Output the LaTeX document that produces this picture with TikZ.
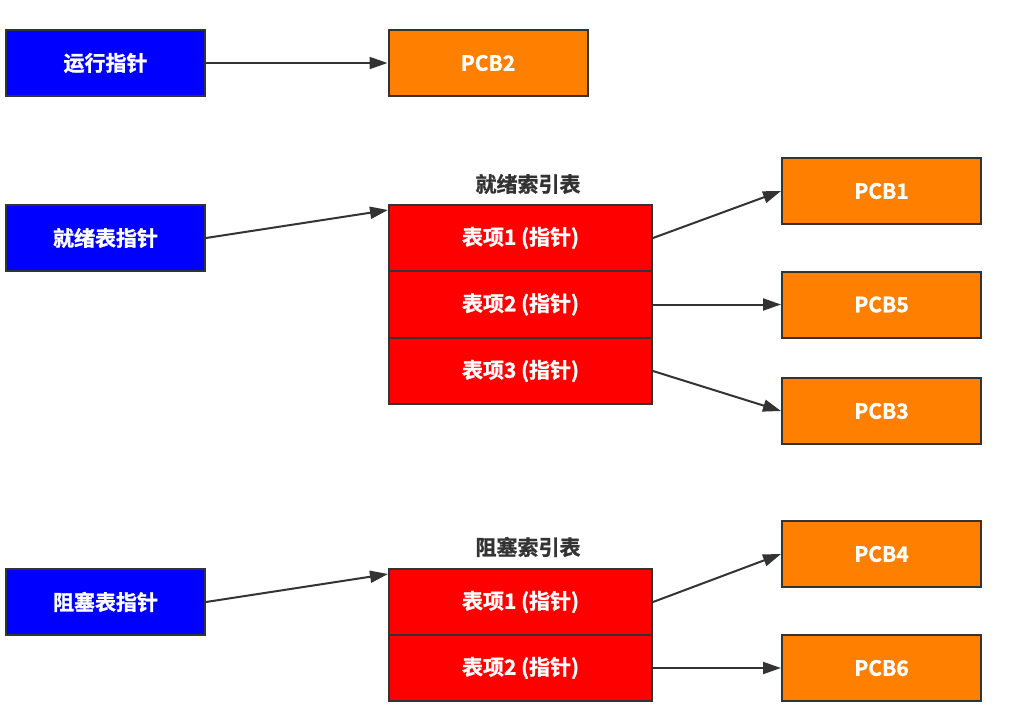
\documentclass[tikz,border=0pt]{standalone}
\usepackage{fontspec}
\setmainfont{Noto Sans CJK SC}[BoldFont={* Bold}]
\newfontfamily\cjkb{Noto Sans CJK SC Bold}[FakeBold=1.2]
\usetikzlibrary{arrows.meta,positioning}
\definecolor{ptrblue}{HTML}{0000FF}
\definecolor{pcborange}{HTML}{FF8000}
\definecolor{tblred}{HTML}{FF0000}
\definecolor{edge}{HTML}{333333}
\begin{document}
\begin{tikzpicture}[x=1pt,y=-1pt,
  box/.style={draw=edge,line width=2pt,minimum width=199pt,minimum height=66pt,inner sep=0pt,font=\cjkb\fontsize{21}{21}\selectfont,text=white},
  ptr/.style={box,fill=ptrblue},
  pcb/.style={box,fill=pcborange},
  row/.style={box,fill=tblred,minimum width=263pt,minimum height=66.5pt},
  tblcap/.style={font=\cjkb\fontsize{21}{21}\selectfont,text=edge},
  conn/.style={draw=edge,line width=2pt,-{Triangle[length=18pt,width=12pt]}}]
\useasboundingbox (0,0) rectangle (1012,709);
% top
\node[ptr] (run) at (105.5,63) {运行指针};
\node[pcb] (pcb2) at (488,63) {PCB2};
% ready
\node[ptr] (ready) at (105.5,238) {就绪表指针};
\node[row] (r1) at (520.5,238) {表项1 (指针)};
\node[row] (r2) at (520.5,304.5) {表项2 (指针)};
\node[row] (r3) at (520.5,371) {表项3 (指针)};
\node[tblcap] (rcap) at (528,184) {就绪索引表};
\node[pcb] (pcb1) at (881.5,191) {PCB1};
\node[pcb] (pcb5) at (881.5,304.5) {PCB5};
\node[pcb] (pcb3) at (881.5,411) {PCB3};
% blocked
\node[ptr] (block) at (105.5,602) {阻塞表指针};
\node[row] (b1) at (520.5,602) {表项1 (指针)};
\node[row] (b2) at (520.5,668) {表项2 (指针)};
\node[tblcap] (bcap) at (528,547) {阻塞索引表};
\node[pcb] (pcb4) at (881.5,554) {PCB4};
\node[pcb] (pcb6) at (881.5,668) {PCB6};
\coordinate (rin) at (388,210);
\coordinate (bin) at (388,574);
% connectors
\draw[conn] (run.east) -- (pcb2.west);
\draw[conn] (ready.east) -- (rin);
\draw[conn] (r1.east) -- (pcb1.west);
\draw[conn] (r2.east) -- (pcb5.west);
\draw[conn] (r3.east) -- (pcb3.west);
\draw[conn] (block.east) -- (bin);
\draw[conn] (b1.east) -- (pcb4.west);
\draw[conn] (b2.east) -- (pcb6.west);
\end{tikzpicture}
\end{document}
